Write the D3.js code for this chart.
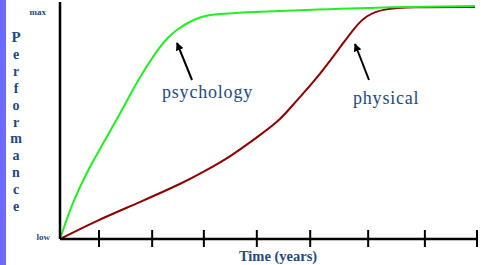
<!DOCTYPE html>
<html>
<head>
<meta charset="utf-8">
<script src="https://cdn.jsdelivr.net/npm/d3@7"></script>
<style>
  html, body { margin: 0; padding: 0; background: #fff; }
  svg { display: block; }
</style>
</head>
<body>
<div id="chart"></div>
<script>
const WIDTH = 481;
const HEIGHT = 265;
const TEXT_COLOR = "#1f497d";

// --------------- Data ---------------
// x in percent of time span, y in percent of performance (low..max)
const psychX = [0, 2.9, 6.7, 10.8, 14.9, 18.7, 22.8, 25.9, 28.3, 30.5, 33.6, 36.7, 46.3, 57.6, 77.5, 99.5];
const psychY = [0, 15.3, 29.4, 42.1, 54.9, 67.7, 79.1, 86.0, 89.4, 91.9, 94.5, 95.7, 96.6, 97.4, 98.7, 99.1];
const physX = [0, 9.1, 18.7, 30.0, 34.3, 40.8, 48.0, 52.8, 56.8, 60.7, 67.1, 70.7, 73.6, 77.5, 83.9, 99.5];
const physY = [0, 8.1, 15.3, 24.3, 28.5, 34.9, 44.3, 50.6, 59.1, 66.4, 81.3, 90.2, 95.3, 97.9, 98.7, 98.7];
const tickValues = [9.35, 22.1, 34.5, 47.2, 60.0, 73.9, 87.5, 100];
const yLabels = ["low", "max"];
const yTitle = "Performance";
const xTitle = "Time (years)";

// --------------- Scales ---------------
const x = d3.scaleLinear().domain([0, 100]).range([60, 477]);
const y = d3.scaleLinear().domain([0, 100]).range([239, 4]);

const svg = d3
  .select("#chart")
  .append("svg")
  .attr("width", WIDTH)
  .attr("height", HEIGHT);

svg
  .append("defs")
  .append("marker")
  .attr("id", "arrow")
  .attr("viewBox", "0 0 10 10")
  .attr("refX", 9)
  .attr("refY", 5)
  .attr("markerWidth", 4)
  .attr("markerHeight", 4)
  .attr("orient", "auto")
  .append("path")
  .attr("d", "M0,0 L10,5 L0,10 z")
  .attr("fill", "#000");

// left blue strip
svg
  .append("rect")
  .attr("x", 0)
  .attr("y", 0)
  .attr("width", 6)
  .attr("height", HEIGHT)
  .attr("fill", "#6b6bff");

// --------------- Curves ---------------
// basis spline smooths out the small reading errors in the points
const line = d3
  .line()
  .x(d => x(d[0]))
  .y(d => y(d[1]))
  .curve(d3.curveBasis);

svg
  .append("path")
  .datum(d3.zip(physX, physY))
  .attr("d", line)
  .attr("fill", "none")
  .attr("stroke", "#8b0000")
  .attr("stroke-width", 2);

svg
  .append("path")
  .datum(d3.zip(psychX, psychY))
  .attr("d", line)
  .attr("fill", "none")
  .attr("stroke", "#22ee22")
  .attr("stroke-width", 2);

// --------------- Axes ---------------
svg
  .append("line")
  .attr("x1", x(0))
  .attr("x2", x(0))
  .attr("y1", 2)
  .attr("y2", y(0))
  .attr("stroke", "#000")
  .attr("stroke-width", 2.5);

svg
  .append("line")
  .attr("x1", x(0))
  .attr("x2", x(100))
  .attr("y1", y(0))
  .attr("y2", y(0))
  .attr("stroke", "#000")
  .attr("stroke-width", 2.5);

svg
  .append("g")
  .selectAll("line")
  .data(tickValues)
  .enter()
  .append("line")
  .attr("x1", d => x(d))
  .attr("x2", d => x(d))
  .attr("y1", y(0) - 9)
  .attr("y2", y(0) + 8)
  .attr("stroke", "#000")
  .attr("stroke-width", 2);

// y end labels
svg
  .append("g")
  .selectAll("text")
  .data(yLabels)
  .enter()
  .append("text")
  .attr("x", (d, i) => (i === 0 ? 50 : 46))
  .attr("y", (d, i) => (i === 0 ? 240 : 15))
  .attr("text-anchor", "end")
  .attr("font-family", "Liberation Serif, serif")
  .attr("font-weight", "bold")
  .attr("font-size", 9)
  .attr("fill", TEXT_COLOR)
  .text(d => d);

// vertical title, one letter per line
svg
  .append("g")
  .selectAll("text")
  .data(yTitle.split(""))
  .enter()
  .append("text")
  .attr("x", 16)
  .attr("y", (d, i) => 42 + i * 16.9)
  .attr("text-anchor", "middle")
  .attr("font-family", "Liberation Serif, serif")
  .attr("font-weight", "bold")
  .attr("font-size", d => (d === "P" ? 15 : 14))
  .attr("fill", TEXT_COLOR)
  .text(d => d);

svg
  .append("text")
  .attr("x", 278)
  .attr("y", 261)
  .attr("text-anchor", "middle")
  .attr("font-family", "Liberation Serif, serif")
  .attr("font-weight", "bold")
  .attr("font-size", 14.5)
  .attr("fill", TEXT_COLOR)
  .text(xTitle);

// --------------- Annotations ---------------
const notes = [
  { text: "psychology", tx: 162, ty: 98, from: [192, 80], to: [177, 43] },
  { text: "physical", tx: 353, ty: 104, from: [369, 80], to: [355, 44] }
];

const note = svg.append("g").selectAll("g").data(notes).enter().append("g");

note
  .append("line")
  .attr("x1", d => d.from[0])
  .attr("y1", d => d.from[1])
  .attr("x2", d => d.to[0])
  .attr("y2", d => d.to[1])
  .attr("stroke", "#000")
  .attr("stroke-width", 2)
  .attr("marker-end", "url(#arrow)");

note
  .append("text")
  .attr("x", d => d.tx)
  .attr("y", d => d.ty)
  .attr("font-family", "Liberation Serif, serif")
  .attr("font-size", 18)
  .attr("letter-spacing", 0.8)
  .attr("fill", TEXT_COLOR)
  .text(d => d.text);
</script>
</body>
</html>
